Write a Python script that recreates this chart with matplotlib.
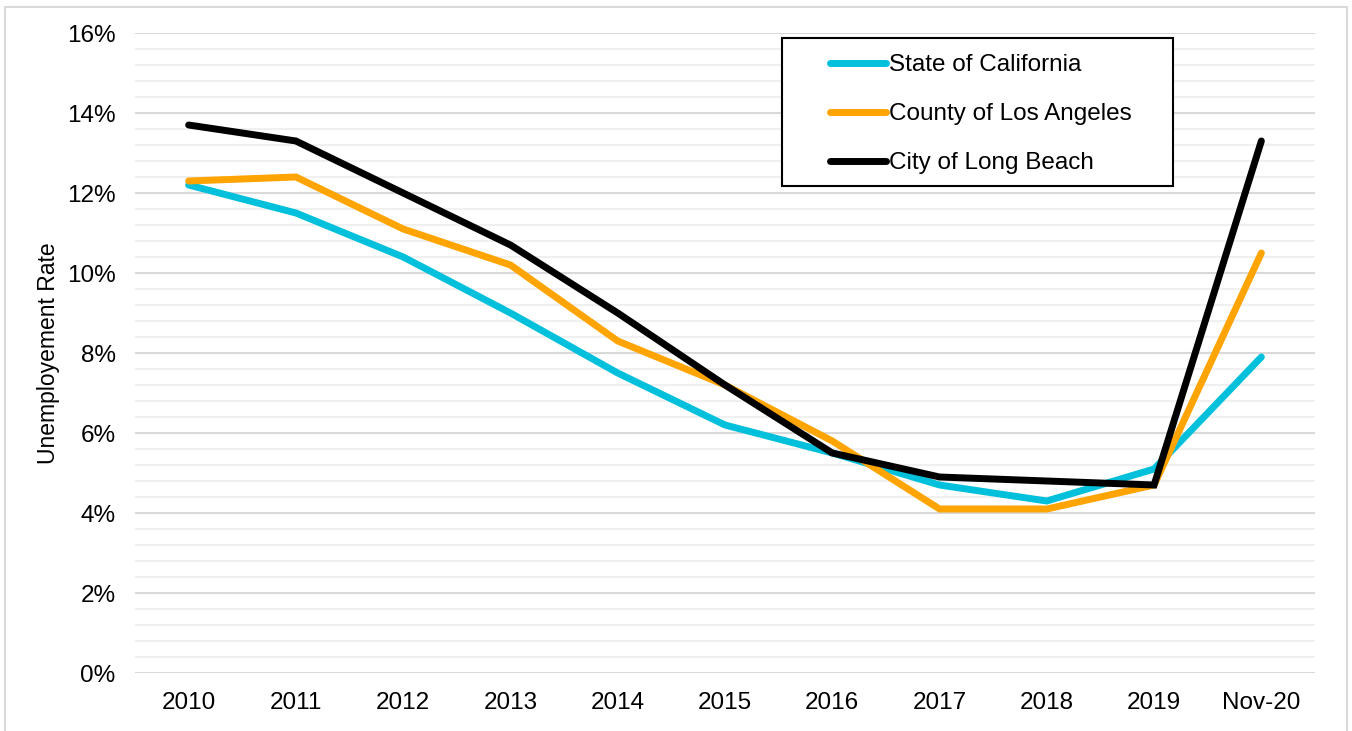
import matplotlib
matplotlib.use("Agg")
import matplotlib.pyplot as plt
from matplotlib.ticker import MultipleLocator, FuncFormatter
from matplotlib.patches import Rectangle

categories = ["2010", "2011", "2012", "2013", "2014", "2015", "2016", "2017", "2018", "2019", "Nov-20"]
california = [12.2, 11.5, 10.4, 9.0, 7.5, 6.2, 5.5, 4.7, 4.3, 5.1, 7.9]
los_angeles = [12.3, 12.4, 11.1, 10.2, 8.3, 7.2, 5.8, 4.1, 4.1, 4.7, 10.5]
long_beach = [13.7, 13.3, 12.0, 10.7, 9.0, 7.2, 5.5, 4.9, 4.8, 4.7, 13.3]
series_names = ["State of California", "County of Los Angeles", "City of Long Beach"]

plt.rcParams['font.family'] = ['Liberation Sans', 'DejaVu Sans']

W, H = 1352, 731
fig = plt.figure(figsize=(W/100, H/100), dpi=100)
ax = fig.add_axes([135/W, 1 - 673/H, (1315-135)/W, (673-33)/H])

# figure border
fig.patches.append(Rectangle((5/W, -0.01), (1347-5)/W, 1.01 - 7/H, transform=fig.transFigure,
                             fill=False, edgecolor='#d9d9d9', linewidth=1.5))

x = list(range(len(categories)))
colors = ['#00c0dc', '#ffa400', '#000000']
for vals, name, c in zip([california, los_angeles, long_beach], series_names, colors):
    ax.plot(x, vals, color=c, linewidth=5, label=name, solid_capstyle='round', solid_joinstyle='miter', zorder=3)

ax.set_xlim(-0.5, len(categories) - 0.5)
ax.set_ylim(0, 16)
ax.yaxis.set_major_locator(MultipleLocator(2))
ax.yaxis.set_minor_locator(MultipleLocator(0.4))
ax.yaxis.set_major_formatter(FuncFormatter(lambda v, p: f"{v:.0f}%"))
ax.set_xticks(x)
ax.set_xticklabels(categories)
ax.grid(which='major', axis='y', color='#d9d9d9', linewidth=1.5, zorder=0)
ax.grid(which='minor', axis='y', color='#f0f0f0', linewidth=1.5, zorder=0)
ax.set_axisbelow(True)
for s in ax.spines.values():
    s.set_visible(False)
ax.tick_params(axis='both', which='both', length=0, labelsize=17.5, colors='black')
ax.tick_params(axis='x', pad=14)
ax.tick_params(axis='y', pad=14)
ax.set_ylabel("Unemployement Rate", fontsize=16.5, labelpad=5)

# legend frame
fig.patches.append(Rectangle((782/W, 1 - 186/H), (1173-782)/W, (186-38)/H, transform=fig.transFigure,
                             facecolor='white', edgecolor='black', linewidth=1.5, zorder=5))
leg = fig.legend(*ax.get_legend_handles_labels(), loc='upper left', bbox_to_anchor=(830/W, 1 - 54/H),
                 fontsize=17.5, frameon=False, handlelength=2.3, handletextpad=0.12,
                 labelspacing=1.12, borderpad=0, borderaxespad=0)
leg.set_zorder(6)

fig.savefig("out.png", dpi=100)
